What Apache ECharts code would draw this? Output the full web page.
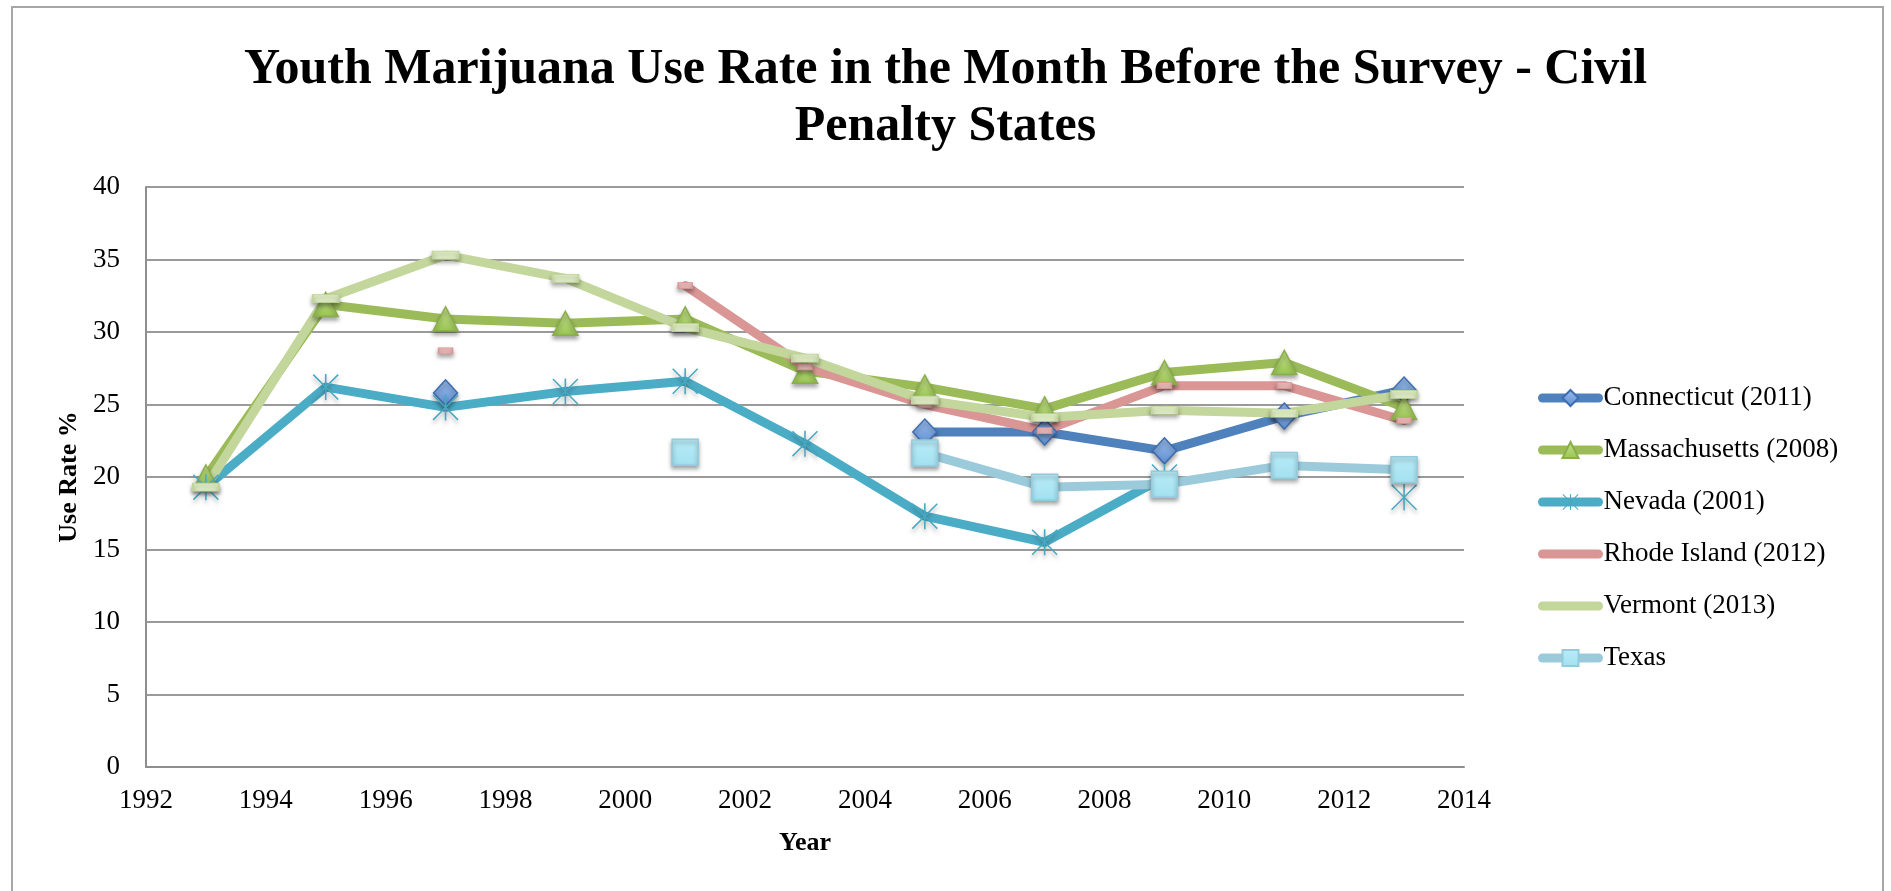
<!DOCTYPE html>
<html><head><meta charset="utf-8">
<script src="https://cdn.jsdelivr.net/npm/echarts@6/dist/echarts.min.js"></script>
<style>html,body{margin:0;padding:0;background:#fff}#c{width:1891px;height:891px}</style>
</head><body><div id="c"></div>
<script>
const titleText = 'Youth Marijuana Use Rate in the Month Before the Survey - Civil\nPenalty States';
const years = [1993, 1995, 1997, 1999, 2001, 2003, 2005, 2007, 2009, 2011, 2013];
const connecticut   = [null, null, 25.8, null, null, null, 23.1, 23.1, 21.8, 24.2, 26.0];
const massachusetts = [20.0, 31.9, 30.9, 30.6, 30.9, 27.3, 26.2, 24.7, 27.2, 27.9, 24.8];
const nevada        = [19.3, 26.2, 24.8, 25.9, 26.6, 22.3, 17.3, 15.5, 20.0, null, 18.6];
const rhodeIsland   = [null, null, 28.7, null, 33.2, 27.6, 25.0, 23.2, 26.3, 26.3, 23.9];
const vermont       = [19.3, 32.3, 35.3, 33.7, 30.3, 28.2, 25.3, 24.1, 24.6, 24.4, 25.7];
const texas         = [null, null, null, null, 21.7, null, 21.65, 19.3, 19.5, 20.8, 20.5];
const seriesNames = ['Connecticut (2011)', 'Massachusetts (2008)', 'Nevada (2001)', 'Rhode Island (2012)', 'Vermont (2013)', 'Texas'];
const xMin = 1992, xMax = 2014, xStep = 2;
const yMin = 0, yMax = 40, yStep = 5;
const xName = 'Year', yName = 'Use Rate %';

const FONT = '"Liberation Serif", "Times New Roman", serif';
function pairs(arr) { return years.map((y, i) => [y, arr[i] == null ? '-' : arr[i]]); }
function grad(a, b) { return new echarts.graphic.LinearGradient(0, 0, 0, 1, [{offset: 0, color: a}, {offset: 1, color: b}]); }
const shadow = {shadowBlur: 4, shadowOffsetY: 3, shadowColor: 'rgba(0,0,0,0.35)'};
const starPath = 'path://M47 0H53V100H47Z M4 0L100 96L96 100L0 4Z M96 0L100 4L4 100L0 96Z';

function mk(name, data, lineColor, symbol, size, itemStyle) {
  return {
    name: name, type: 'line', data: pairs(data), connectNulls: false,
    symbol: symbol, symbolSize: size, showSymbol: true,
    lineStyle: {color: lineColor, width: 9, cap: 'round', join: 'round'},
    itemStyle: Object.assign({}, shadow, itemStyle),
    emphasis: {disabled: true}, animation: false
  };
}

const legendData = seriesNames.map((n, i) => (i === 3 || i === 4) ? {name: n, itemStyle: {opacity: 0}} : {name: n});

const chart = echarts.init(document.getElementById('c'), null, {renderer: 'canvas'});
chart.setOption({
  backgroundColor: '#fff',
  animation: false,
  graphic: [{type: 'rect', shape: {x: 12, y: 7, width: 1871, height: 900}, style: {fill: 'none', stroke: '#A6A6A6', lineWidth: 2}, silent: true}],
  title: {text: titleText, left: 'center', top: 37,
    textStyle: {fontFamily: FONT, fontWeight: 'bold', fontSize: 50, lineHeight: 57, color: '#000'}},
  grid: {left: 146, right: 427, top: 187, bottom: 124, containLabel: false},
  legend: {orient: 'vertical', left: 1533, top: 378, itemWidth: 56, itemHeight: 20, itemGap: 22,
    data: legendData,
    lineStyle: {width: 9, cap: 'round'},
    textStyle: {fontFamily: FONT, fontSize: 27, color: '#000', lineHeight: 30}},
  xAxis: {type: 'value', min: xMin, max: xMax, interval: xStep,
    name: xName, nameLocation: 'middle', nameGap: 63,
    nameTextStyle: {fontFamily: FONT, fontWeight: 'bold', fontSize: 26, color: '#000'},
    axisLine: {show: true, lineStyle: {color: '#8E8E8E', width: 2}},
    axisTick: {show: false}, splitLine: {show: false},
    axisLabel: {fontFamily: FONT, fontSize: 27, color: '#000', margin: 20, formatter: v => String(v)}},
  yAxis: {type: 'value', min: yMin, max: yMax, interval: yStep,
    name: yName, nameLocation: 'middle', nameGap: 64, nameRotate: 90,
    nameTextStyle: {fontFamily: FONT, fontWeight: 'bold', fontSize: 26, color: '#000'},
    axisLine: {show: true, lineStyle: {color: '#8E8E8E', width: 2}},
    axisTick: {show: false},
    splitLine: {show: true, lineStyle: {color: '#9A9A9A', width: 2}},
    axisLabel: {fontFamily: FONT, fontSize: 27, color: '#000', margin: 26}},
  series: [
    mk(seriesNames[0], connecticut, '#4F81BD', 'diamond', [24, 26], {color: grad('#9BBCEB', '#5F8FD2'), borderColor: '#3E6DAF', borderWidth: 1.5}),
    mk(seriesNames[1], massachusetts, '#9BBB59', 'triangle', [25, 24], {color: grad('#C8E48E', '#98C452'), borderColor: '#8AAE4A', borderWidth: 1.5}),
    mk(seriesNames[2], nevada, '#4BACC6', starPath, 26, {color: '#47A8C2', borderColor: '#47A8C2', borderWidth: 0}),
    mk(seriesNames[3], rhodeIsland, '#D99694', 'rect', [14, 6], {color: '#EBB8B7', borderColor: '#D99694', borderWidth: 1}),
    mk(seriesNames[4], vermont, '#C3D69B', 'rect', [26, 8], {color: '#DDEBC2', borderColor: '#C0D598', borderWidth: 1}),
    mk(seriesNames[5], texas, '#9BCBDB', 'rect', 26, {color: grad('#B9ECF8', '#A3E0F0'), borderColor: '#92CBDB', borderWidth: 1.5})
  ]
});
</script></body></html>
